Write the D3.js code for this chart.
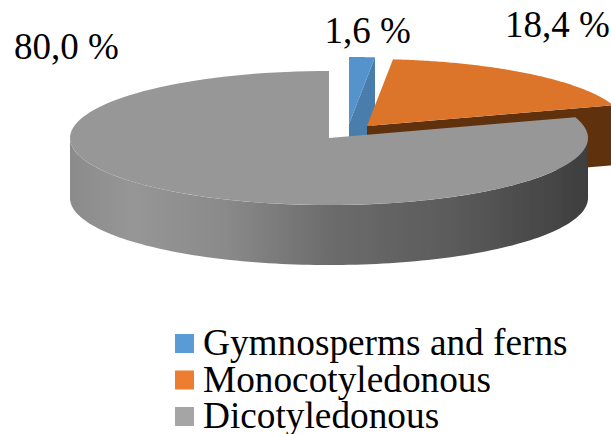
<!DOCTYPE html>
<html><head><meta charset="utf-8">
<script src="https://cdn.jsdelivr.net/npm/d3@7/dist/d3.min.js"></script>
<style>html,body{margin:0;padding:0;background:#fff}svg{display:block}text{font-family:"Liberation Serif",serif;fill:#000}</style>
</head><body><div id="c"></div>
<script>
const categories = ["Gymnosperms and ferns", "Monocotyledonous", "Dicotyledonous"];
const values = [1.6, 18.4, 80.0];
const valueLabels = ["1,6 %", "18,4 %", "80,0 %"];
const topColors = ["#5593cd", "#dc752c", "#979797"];
const sideColors = ["#4a7dab", "#5f3110", "url(#wall)"];
const legendColors = ["#5b9bd5", "#ed7d31", "#a5a5a5"];

const W = 611, H = 434, rx = 259, ry = 67, depth = 60;
const centers = [[349, 124], [367, 126], [329, 138]];
const labelPos = [[324.5, 43], [505, 37], [14, 59]];

const svg = d3.select("#c").append("svg").attr("width", W).attr("height", H);
const defs = svg.append("defs");
const grad = defs.append("linearGradient").attr("id", "wall")
  .attr("gradientUnits", "userSpaceOnUse").attr("x1", 70).attr("x2", 588).attr("y1", 0).attr("y2", 0);
[[0, "#8b8b8b"], [0.12, "#969696"], [0.3, "#8a8a8a"], [0.5, "#6c6c6c"], [0.75, "#5a5a5a"], [1, "#3e3e3e"]]
  .forEach(([o, c]) => grad.append("stop").attr("offset", o).attr("stop-color", c));
defs.append("filter").attr("id", "soft").append("feGaussianBlur").attr("stdDeviation", 0.5);

const pie = d3.pie().sort(null).startAngle(0).endAngle(2 * Math.PI);
const arcs = pie(values);
const line = d3.line();
const pt = (c, a, dy = 0) => [c[0] + rx * Math.sin(a), c[1] - ry * Math.cos(a) + dy];
const arcPts = (c, a0, a1, dy = 0) => d3.range(0, 121).map(i => pt(c, a0 + (a1 - a0) * i / 120, dy));

const g = svg.append("g").attr("filter", "url(#soft)");
arcs.forEach((d, i) => {
  const c = centers[i], a0 = d.startAngle, a1 = d.endAngle;
  const outer = arcPts(c, a0, a1);
  if (i < 2) {
    g.append("path").attr("fill", sideColors[i]).attr("d", line([
      [c[0], c[1]], pt(c, a1), pt(c, a1, depth), [c[0], c[1] + depth]
    ]) + "Z");
  } else {
    const front = arcPts(c, Math.PI / 2, 3 * Math.PI / 2);
    const back = arcPts(c, 3 * Math.PI / 2, Math.PI / 2, depth);
    g.append("path").attr("fill", sideColors[i]).attr("d", line(front.concat(back)) + "Z");
  }
  g.append("path").attr("fill", topColors[i]).attr("d", line([[c[0], c[1]], ...outer]) + "Z");
});

svg.selectAll("text.val").data(valueLabels).join("text").attr("class", "val")
  .attr("x", (d, i) => labelPos[i][0]).attr("y", (d, i) => labelPos[i][1])
  .attr("font-size", 37).text(d => d);

const legendY = d3.scalePoint().domain(categories).range([355, 428]);
const lg = svg.selectAll("g.leg").data(categories).join("g").attr("class", "leg");
lg.append("rect").attr("x", 175).attr("y", d => legendY(d) - 21).attr("width", 19).attr("height", 19)
  .attr("fill", (d, i) => legendColors[i]);
lg.append("text").attr("x", 203).attr("y", d => legendY(d)).attr("font-size", 37.3).text(d => d);
</script></body></html>
